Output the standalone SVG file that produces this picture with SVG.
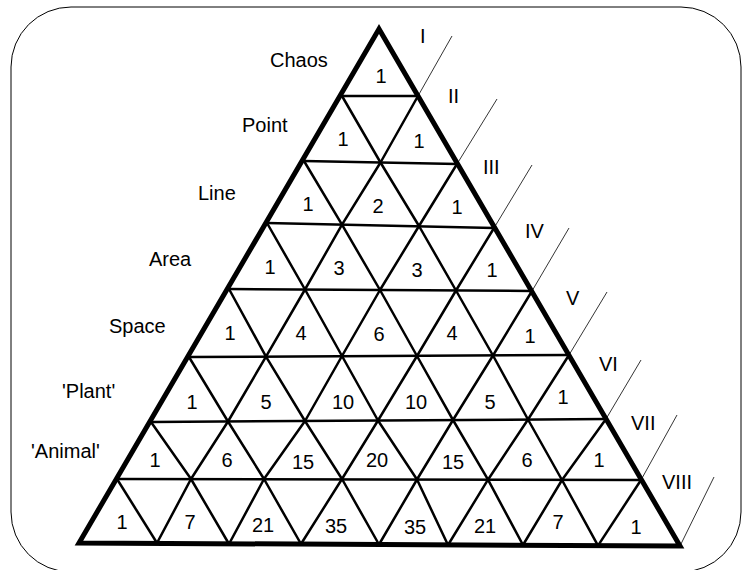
<svg xmlns="http://www.w3.org/2000/svg" width="750" height="570" viewBox="0 0 750 570">
<style>
text{font-family:"Liberation Sans",Arial,sans-serif;font-size:20px;fill:#000}
.n{text-anchor:middle}
.g{fill:none;stroke:#000;stroke-width:2.5;stroke-linejoin:round}
.o{fill:none;stroke:#000;stroke-width:5;stroke-linejoin:miter}
.t{fill:none;stroke:#000;stroke-width:0.8}
</style>
<rect x="11" y="7" width="730" height="565" rx="60" ry="60" fill="#fff" stroke="#000" stroke-width="1"/>
<g id="grid">
<line class="g" x1="342" y1="96" x2="418" y2="96"/>
<line class="g" x1="304" y1="161" x2="457" y2="164"/>
<line class="g" x1="267" y1="223" x2="494" y2="228"/>
<line class="g" x1="229" y1="289" x2="532" y2="291"/>
<line class="g" x1="189" y1="357" x2="569" y2="355"/>
<line class="g" x1="151" y1="422" x2="606" y2="419"/>
<line class="g" x1="117" y1="479" x2="641" y2="480"/>
<polyline class="g" points="157,543 191,479 228,421.5 266,356.6 305,289.5 342,224.7 380.5,162.5 418,96"/>
<polyline class="g" points="229,544 264,479 305,421 342,356 380,290 419,226 457,164"/>
<polyline class="g" points="301,544 342,479 378,420.5 417,356 456,290.5 494,228"/>
<polyline class="g" points="379,544.5 417,479.5 453,420 493,355.5 532,291"/>
<polyline class="g" points="448,545 488,479.7 528,419.5 569,355"/>
<polyline class="g" points="523,545 562,480 606,419"/>
<polyline class="g" points="598,545.6 641,480"/>
<polyline class="g" points="157,543 117,479"/>
<polyline class="g" points="229,544 191,479 151,422"/>
<polyline class="g" points="301,544 264,479 228,421.5 189,357"/>
<polyline class="g" points="379,544.5 342,479 305,421 266,356.6 229,289"/>
<polyline class="g" points="448,545 417,479.5 378,420.5 342,356 305,289.5 267,223"/>
<polyline class="g" points="523,545 488,479.7 453,420 417,356 380,290 342,224.7 304,161"/>
<polyline class="g" points="598,545.6 562,480 528,419.5 493,355.5 456,290.5 419,226 380.5,162.5 342,96"/>
<polygon class="o" points="379,29 79,543 680,546"/>
</g>
<g id="ticks">
<line class="t" x1="418" y1="96" x2="452" y2="36"/>
<line class="t" x1="457" y1="164" x2="497" y2="99"/>
<line class="t" x1="494" y1="228" x2="532" y2="165"/>
<line class="t" x1="532" y1="291" x2="569" y2="228"/>
<line class="t" x1="569" y1="355" x2="607" y2="292"/>
<line class="t" x1="606" y1="419" x2="641" y2="360"/>
<line class="t" x1="641" y1="480" x2="677" y2="415"/>
<line class="t" x1="680" y1="546" x2="714" y2="477"/>
</g>
<g id="levels">
<text x="420" y="43">I</text>
<text x="448" y="103">II</text>
<text x="483" y="174">III</text>
<text x="525" y="238">IV</text>
<text x="566" y="305">V</text>
<text x="599" y="371">VI</text>
<text x="631" y="430">VII</text>
<text x="662" y="489">VIII</text>
</g>
<g id="stages">
<text x="270" y="67">Chaos</text>
<text x="242" y="132">Point</text>
<text x="198" y="200">Line</text>
<text x="149" y="266">Area</text>
<text x="109" y="333">Space</text>
<text x="62" y="398">'Plant'</text>
<text x="31" y="458">'Animal'</text>
</g>
<g id="numbers" class="n">
<text class="n" x="381" y="83">1</text>
<text class="n" x="343" y="146">1</text>
<text class="n" x="419" y="148">1</text>
<text class="n" x="308" y="211">1</text>
<text class="n" x="378" y="213">2</text>
<text class="n" x="457" y="214">1</text>
<text class="n" x="270" y="274">1</text>
<text class="n" x="339" y="275">3</text>
<text class="n" x="417" y="277">3</text>
<text class="n" x="492" y="277">1</text>
<text class="n" x="230" y="340">1</text>
<text class="n" x="301" y="340">4</text>
<text class="n" x="379" y="341">6</text>
<text class="n" x="452" y="340">4</text>
<text class="n" x="530" y="343">1</text>
<text class="n" x="192" y="409">1</text>
<text class="n" x="266" y="409">5</text>
<text class="n" x="343" y="409">10</text>
<text class="n" x="416" y="409">10</text>
<text class="n" x="490" y="409">5</text>
<text class="n" x="563" y="404">1</text>
<text class="n" x="155" y="467">1</text>
<text class="n" x="227" y="467">6</text>
<text class="n" x="303" y="469">15</text>
<text class="n" x="377" y="467">20</text>
<text class="n" x="453" y="469">15</text>
<text class="n" x="527" y="467">6</text>
<text class="n" x="599" y="467">1</text>
<text class="n" x="122" y="529">1</text>
<text class="n" x="190" y="529">7</text>
<text class="n" x="263" y="532">21</text>
<text class="n" x="336" y="533">35</text>
<text class="n" x="415" y="534">35</text>
<text class="n" x="485" y="533">21</text>
<text class="n" x="558" y="529">7</text>
<text class="n" x="636" y="534">1</text>
</g>
</svg>
